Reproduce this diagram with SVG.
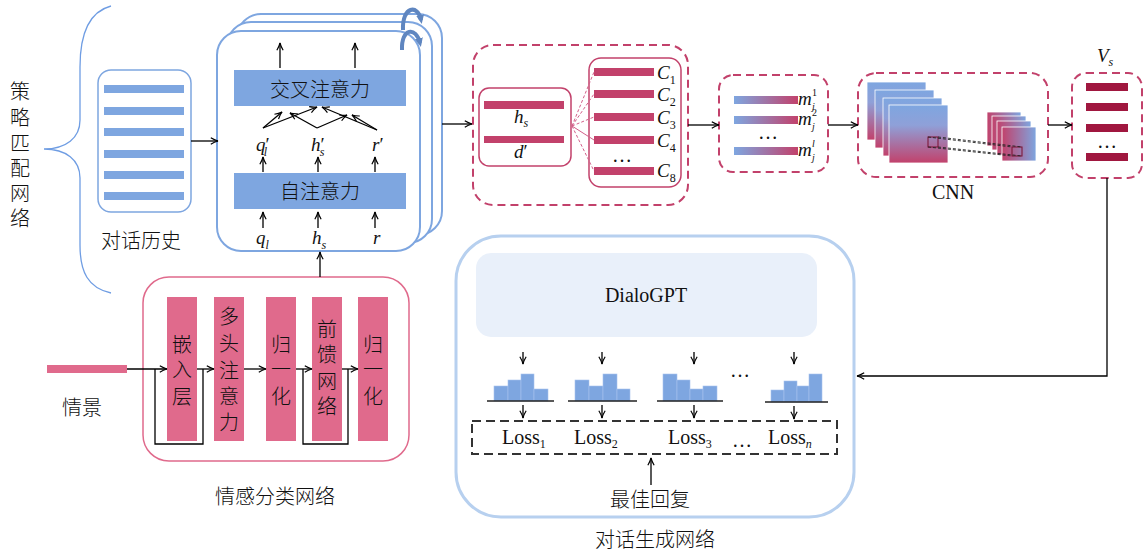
<svg xmlns="http://www.w3.org/2000/svg" width="1143" height="554" viewBox="0 0 1143 554">
  <style>
    .cn { font-family: "Noto Sans CJK SC", "Liberation Sans", sans-serif; font-size: 20px; font-weight: 300; fill: #111; }
    .math { font-family: "Liberation Serif", serif; font-style: italic; font-size: 19px; fill: #111; }
    .rm { font-family: "Liberation Serif", serif; font-size: 20px; fill: #111; }
    .sub { font-size: 12px; }
    .tiny { font-family: "Liberation Serif", serif; font-size: 10px; fill: #111; }
    .arrow { stroke: #000; stroke-width: 1.3; fill: none; marker-end: url(#arr); }
    .line { stroke: #000; stroke-width: 1.3; fill: none; }
    .bluebar { fill: #7ea6e0; }
    .redbar { fill: #c2416b; }
    .darkbar { fill: #a0173f; }
    .pinkbar { fill: #e06a8c; }
    .redbox { fill: none; stroke: #c2416b; stroke-width: 2; stroke-dasharray: 8 5; }
    .card { fill: #fff; stroke: #7ea6e0; stroke-width: 2; }
  </style>
  <defs>
    <marker id="arr" viewBox="0 0 10 10" refX="9" refY="5" markerWidth="9" markerHeight="9" markerUnits="userSpaceOnUse" orient="auto">
      <path d="M1,1.5 Q5,4 9,5 Q5,6 1,8.5" fill="none" stroke="#000" stroke-width="1.3"/>
    </marker>
    <marker id="loop" viewBox="0 0 10 10" refX="5" refY="5" markerWidth="10" markerHeight="10" markerUnits="userSpaceOnUse" orient="auto">
      <path d="M0,1 L9,5 L0,9 Z" fill="#5f86c0"/>
    </marker>
    <linearGradient id="gradH" x1="0" y1="0" x2="1" y2="0">
      <stop offset="0" stop-color="#7ea6e0"/>
      <stop offset="1" stop-color="#c2416b"/>
    </linearGradient>
    <linearGradient id="gradV" x1="0" y1="0" x2="0" y2="1">
      <stop offset="0" stop-color="#7ea6e0"/>
      <stop offset="0.35" stop-color="#8fa0d8"/>
      <stop offset="1" stop-color="#c2416b"/>
    </linearGradient>
    <linearGradient id="gradR" x1="0" y1="0" x2="1" y2="0">
      <stop offset="0" stop-color="#c2416b"/>
      <stop offset="1" stop-color="#7ea6e0"/>
    </linearGradient>
  </defs>

  <!-- strategy matching network brace + label -->
  <g id="strategy-label">
    <path d="M111,6 C88,12 80,35 80,67 L80,120 C80,138 66,149 44,149 C66,149 80,160 80,178 L80,245 C80,272 88,288 111,293" fill="none" stroke="#6f9de3" stroke-width="1.3"/>
    <text class="cn" x="20" y="99" text-anchor="middle">策</text>
    <text class="cn" x="20" y="125" text-anchor="middle">略</text>
    <text class="cn" x="20" y="151" text-anchor="middle">匹</text>
    <text class="cn" x="20" y="176" text-anchor="middle">配</text>
    <text class="cn" x="20" y="201" text-anchor="middle">网</text>
    <text class="cn" x="20" y="226" text-anchor="middle">络</text>
  </g>

  <!-- dialogue history -->
  <g id="history">
    <rect x="98" y="70" width="93" height="142" rx="13" fill="#fff" stroke="#7ea6e0" stroke-width="1.5"/>
    <rect class="bluebar" x="104" y="85" width="80" height="8"/>
    <rect class="bluebar" x="104" y="107" width="80" height="8"/>
    <rect class="bluebar" x="104" y="128" width="80" height="8"/>
    <rect class="bluebar" x="104" y="150" width="80" height="8"/>
    <rect class="bluebar" x="104" y="171" width="80" height="8"/>
    <rect class="bluebar" x="104" y="192" width="80" height="8"/>
    <text class="cn" x="141" y="248" text-anchor="middle">对话历史</text>
  </g>

  <!-- stacked attention blocks -->
  <g id="attention">
    <rect class="card" x="237" y="14" width="205" height="221" rx="24"/>
    <rect class="card" x="227" y="22" width="205" height="221" rx="24"/>
    <rect class="card" x="217" y="31" width="203" height="220" rx="24"/>
    <path d="M403,30 C402,6 418,4 421,20" fill="none" stroke="#5f86c0" stroke-width="4" marker-end="url(#loop)"/>
    <path d="M402,50 C401,28 416,26 420,43" fill="none" stroke="#5f86c0" stroke-width="4" marker-end="url(#loop)"/>
    <rect class="bluebar" x="234" y="70" width="172" height="36"/>
    <text class="cn" x="320" y="97" text-anchor="middle" font-size="21">交叉注意力</text>
    <rect class="bluebar" x="234" y="173" width="172" height="36"/>
    <text class="cn" x="320" y="199" text-anchor="middle" font-size="21">自注意力</text>
    <text class="math" x="256" y="151">q<tspan font-style="normal">′</tspan><tspan class="sub" dx="-6" dy="5">l</tspan></text>
    <text class="math" x="311" y="151">h<tspan font-style="normal">′</tspan><tspan class="sub" dx="-5" dy="5">s</tspan></text>
    <text class="math" x="372" y="151">r<tspan font-style="normal">′</tspan></text>
    <text class="math" x="256" y="244">q<tspan class="sub" dy="5">l</tspan></text>
    <text class="math" x="312" y="244">h<tspan class="sub" dy="5">s</tspan></text>
    <text class="math" x="373" y="244">r</text>
  </g>

  <!-- situation input -->
  <g id="situation">
    <rect class="pinkbar" x="47" y="365" width="80" height="8"/>
    <text class="cn" x="82" y="415" text-anchor="middle">情景</text>
  </g>

  <!-- emotion classification network -->
  <g id="emotion">
    <rect x="143" y="277" width="266" height="184" rx="26" fill="#fff" stroke="#e06a8c" stroke-width="1.5"/>
    <rect class="pinkbar" x="167" y="297" width="30" height="144"/>
    <rect class="pinkbar" x="214" y="297" width="30" height="144"/>
    <rect class="pinkbar" x="266" y="297" width="30" height="144"/>
    <rect class="pinkbar" x="312" y="297" width="30" height="144"/>
    <rect class="pinkbar" x="358" y="297" width="30" height="144"/>
    <g class="cn" text-anchor="middle">
      <text x="182" y="352">嵌</text><text x="182" y="377">入</text><text x="182" y="404">层</text>
      <text x="229" y="324">多</text><text x="229" y="351">头</text><text x="229" y="378">注</text><text x="229" y="404">意</text><text x="229" y="430">力</text>
      <text x="281" y="352">归</text><text x="281" y="377">一</text><text x="281" y="404">化</text>
      <text x="327" y="337">前</text><text x="327" y="362">馈</text><text x="327" y="389">网</text><text x="327" y="414">络</text>
      <text x="373" y="352">归</text><text x="373" y="377">一</text><text x="373" y="404">化</text>
    </g>
    <text class="cn" x="275" y="504" text-anchor="middle">情感分类网络</text>
  </g>

  <!-- red dashed: h_s / d' and candidates C -->
  <g id="candidates">
    <rect class="redbox" x="473" y="45" width="215" height="160" rx="20"/>
    <rect x="479" y="88" width="92" height="78" rx="10" fill="#fff" stroke="#c2416b" stroke-width="1.5"/>
    <rect class="redbar" x="484" y="101" width="80" height="8"/>
    <text class="math" x="514" y="123">h<tspan class="sub" dy="4">s</tspan></text>
    <rect class="redbar" x="484" y="136" width="80" height="7"/>
    <text class="math" x="514" y="158">d<tspan font-style="normal">′</tspan></text>
    <rect x="589" y="58" width="92" height="129" rx="12" fill="#fff" stroke="#c2416b" stroke-width="1.5"/>
    <rect class="redbar" x="594" y="68" width="60" height="8"/>
    <rect class="redbar" x="594" y="90" width="60" height="8"/>
    <rect class="redbar" x="594" y="113" width="60" height="8"/>
    <rect class="redbar" x="594" y="136" width="60" height="8"/>
    <rect class="redbar" x="594" y="167" width="60" height="8"/>
    <text class="rm" x="622" y="162" text-anchor="middle">…</text>
    <text class="math" x="657" y="79">C<tspan class="sub" font-style="normal" dy="5">1</tspan></text>
    <text class="math" x="657" y="101">C<tspan class="sub" font-style="normal" dy="5">2</tspan></text>
    <text class="math" x="657" y="124">C<tspan class="sub" font-style="normal" dy="5">3</tspan></text>
    <text class="math" x="657" y="147">C<tspan class="sub" font-style="normal" dy="5">4</tspan></text>
    <text class="math" x="657" y="177">C<tspan class="sub" font-style="normal" dy="5">8</tspan></text>
    <g stroke="#d2608a" stroke-width="1" fill="none">
      <path d="M572,126 L594,72" stroke-dasharray="3 2"/>
      <path d="M572,126 L594,94" stroke-dasharray="3 2"/>
      <path d="M572,126 L594,117" stroke-dasharray="3 2"/>
      <path d="M572,126 L594,140"/>
      <path d="M572,126 L594,171" stroke-dasharray="3 2"/>
    </g>
  </g>

  <!-- m_j feature bars -->
  <g id="features">
    <rect class="redbox" x="719" y="75" width="109" height="97" rx="14"/>
    <rect x="734" y="96" width="64" height="8" fill="url(#gradH)"/>
    <rect x="734" y="116" width="64" height="8" fill="url(#gradH)"/>
    <rect x="734" y="147" width="64" height="8" fill="url(#gradH)"/>
    <text class="rm" x="768" y="139" text-anchor="middle">…</text>
    <text class="math" x="798" y="105" font-size="18">m</text>
    <text class="tiny" x="812" y="96">1</text>
    <text class="tiny" x="812" y="110" font-style="italic">j</text>
    <text class="math" x="798" y="125" font-size="18">m</text>
    <text class="tiny" x="812" y="116">2</text>
    <text class="tiny" x="812" y="130" font-style="italic">j</text>
    <text class="math" x="798" y="156" font-size="18">m</text>
    <text class="tiny" x="812" y="147" font-style="italic">l</text>
    <text class="tiny" x="812" y="161" font-style="italic">j</text>
  </g>

  <!-- CNN -->
  <g id="cnn">
    <rect class="redbox" x="858" y="73" width="190" height="104" rx="18"/>
    <rect x="867" y="82" width="59" height="58" fill="url(#gradV)" stroke="#fff" stroke-width="0.8"/>
    <rect x="875" y="90" width="59" height="58" fill="url(#gradV)" stroke="#fff" stroke-width="0.8"/>
    <rect x="883" y="98" width="59" height="58" fill="url(#gradV)" stroke="#fff" stroke-width="0.8"/>
    <rect x="889" y="105" width="59" height="58" fill="url(#gradV)" stroke="#fff" stroke-width="0.8"/>
    <rect x="987" y="112" width="34" height="34" fill="url(#gradR)" stroke="#fff" stroke-width="0.8"/>
    <rect x="992" y="116" width="34" height="34" fill="url(#gradR)" stroke="#fff" stroke-width="0.8"/>
    <rect x="997" y="121" width="34" height="34" fill="url(#gradR)" stroke="#fff" stroke-width="0.8"/>
    <rect x="1002" y="127" width="34" height="34" fill="url(#gradR)" stroke="#fff" stroke-width="0.8"/>
    <rect x="928" y="137" width="10" height="10" fill="none" stroke="#7a1030" stroke-width="1"/>
    <rect x="1012" y="147" width="10" height="9" fill="none" stroke="#7a1030" stroke-width="1"/>
    <g stroke="#222" stroke-width="0.9" stroke-dasharray="3 2" fill="none">
      <path d="M928,137 L1012,147"/>
      <path d="M938,137 L1022,147"/>
      <path d="M928,147 L1012,156"/>
      <path d="M938,147 L1022,156"/>
    </g>
    <text class="rm" x="953" y="199" text-anchor="middle" font-size="19">CNN</text>
  </g>

  <!-- V_s -->
  <g id="vs">
    <rect class="redbox" x="1072" y="73" width="70" height="105" rx="14"/>
    <rect class="darkbar" x="1086" y="83" width="42" height="8"/>
    <rect class="darkbar" x="1086" y="103" width="42" height="8"/>
    <rect class="darkbar" x="1086" y="124" width="42" height="8"/>
    <text class="rm" x="1107" y="148" text-anchor="middle">…</text>
    <rect class="darkbar" x="1086" y="153" width="42" height="8"/>
    <text class="math" x="1097" y="62" font-size="20">V<tspan class="sub" dy="4">s</tspan></text>
  </g>

  <!-- dialogue generation network -->
  <g id="generation">
    <rect x="456" y="236" width="398" height="281" rx="45" fill="#fff" stroke="#b7d0ef" stroke-width="3"/>
    <rect x="476" y="253" width="341" height="84" rx="15" fill="#e9f0fa"/>
    <text class="rm" x="646" y="302" text-anchor="middle" font-size="21">DialoGPT</text>
    <g class="bluebar" stroke="#a9c4ee" stroke-width="0.6">
      <rect x="494" y="386" width="14" height="15"/><rect x="508" y="380" width="13" height="21"/><rect x="521" y="374" width="13" height="27"/><rect x="534" y="389" width="14" height="12"/>
      <rect x="575" y="380" width="14" height="21"/><rect x="589" y="386" width="14" height="15"/><rect x="603" y="374" width="14" height="27"/><rect x="617" y="389" width="13" height="12"/>
      <rect x="663" y="374" width="14" height="27"/><rect x="677" y="380" width="13" height="21"/><rect x="690" y="389" width="13" height="12"/><rect x="703" y="386" width="14" height="15"/>
      <rect x="771" y="390" width="13" height="12"/><rect x="784" y="381" width="13" height="21"/><rect x="797" y="386" width="12" height="16"/><rect x="809" y="374" width="13" height="28"/>
    </g>
    <g stroke="#222" stroke-width="1.5">
      <path d="M487,401 H554"/>
      <path d="M568,401 H637"/>
      <path d="M657,401 H723"/>
      <path d="M765,402 H828"/>
    </g>
    <text class="rm" x="740" y="377" text-anchor="middle">…</text>
    <rect x="472" y="421" width="365" height="33" fill="none" stroke="#333" stroke-width="2" stroke-dasharray="9 5"/>
    <text class="rm" x="502" y="444">Loss<tspan class="sub" dy="4">1</tspan></text>
    <text class="rm" x="574" y="444">Loss<tspan class="sub" dy="4">2</tspan></text>
    <text class="rm" x="668" y="444">Loss<tspan class="sub" dy="4">3</tspan></text>
    <text class="rm" x="732" y="447" font-size="18">…</text>
    <text class="rm" x="768" y="444">Loss<tspan class="sub" font-style="italic" dy="4">n</tspan></text>
    <text class="cn" x="650" y="507" text-anchor="middle" font-size="21">最佳回复</text>
    <text class="cn" x="655" y="547" text-anchor="middle" font-size="21">对话生成网络</text>
  </g>

  <!-- connectors -->
  <g id="connectors">
    <path class="arrow" d="M191,141 H218"/>
    <path class="arrow" d="M280,68 V43"/>
    <path class="arrow" d="M355,68 V43"/>
    <path class="arrow" d="M263,172 V157"/>
    <path class="arrow" d="M318,172 V157"/>
    <path class="arrow" d="M375,172 V157"/>
    <path class="arrow" d="M263,228 V212"/>
    <path class="arrow" d="M318,228 V212"/>
    <path class="arrow" d="M375,228 V212"/>
    <path class="arrow" d="M263,128 L282,112"/>
    <path class="arrow" d="M263,128 L317,107"/>
    <path class="arrow" d="M317,128 L290,113"/>
    <path class="arrow" d="M317,128 L347,115"/>
    <path class="arrow" d="M377,130 L322,107"/>
    <path class="arrow" d="M377,130 L352,115"/>
    <path class="arrow" d="M320,277 V252"/>
    <path class="arrow" d="M442,124 H472"/>
    <path class="arrow" d="M688,125 H719"/>
    <path class="arrow" d="M828,125 H858"/>
    <path class="arrow" d="M1048,125 H1072"/>
    <path class="arrow" d="M1107,178 V376 H857"/>
    <!-- emotion network flow with residual links -->
    <path class="arrow" d="M127,369 H167"/>
    <path class="line" d="M155,369 V444 H203 V369"/>
    <path class="arrow" d="M197,369 H214"/>
    <path class="arrow" d="M244,369 H266"/>
    <path class="arrow" d="M296,369 H312"/>
    <path class="line" d="M303,369 V444 H348 V369"/>
    <path class="arrow" d="M342,369 H358"/>
    <!-- generation network -->
    <path class="arrow" d="M523,352 V364"/>
    <path class="arrow" d="M602,352 V364"/>
    <path class="arrow" d="M694,352 V364"/>
    <path class="arrow" d="M794,352 V364"/>
    <path class="arrow" d="M523,405 V418"/>
    <path class="arrow" d="M602,405 V418"/>
    <path class="arrow" d="M694,405 V418"/>
    <path class="arrow" d="M794,406 V419"/>
    <path class="arrow" d="M651,485 V458"/>
  </g>
</svg>
